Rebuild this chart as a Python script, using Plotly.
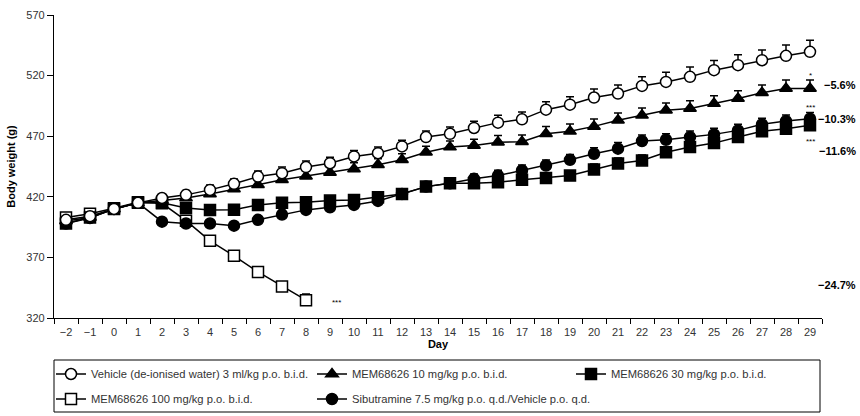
import plotly.graph_objects as go

days = list(range(-2, 30))

vehicle = [401, 404, 410, 415, 419, 421.6, 425.7, 430.7, 436.7, 439.5, 444.5, 447.7, 453.3, 456,
           461.6, 469.3, 472, 476.8, 481.2, 483.9, 491.9, 496, 501.9, 505.2, 511.5, 514.8, 519,
           524.5, 528.6, 532.7, 536.3, 539.6]
vehicle_err = [2, 2, 2, 2, 3, 3.5, 4, 4, 4.5, 5, 5, 5, 5, 5, 5, 5, 5.5, 5.5, 6, 6, 6.5, 6.5, 7, 7,
               7.5, 8, 8, 8, 8.5, 8.5, 9, 9.5]

mem10 = [400, 403, 410, 415, 417, 419, 422.4, 426.5, 430, 434, 437, 440, 443, 446.4, 450.5, 456.8,
         461, 462.4, 465.1, 465.5, 472, 474, 478.1, 483.1, 487.2, 491.4, 492.8, 496.9, 501.1, 505.8,
         509.4, 509.4]
mem10_err = [2, 2, 2, 2, 3, 3, 3.5, 4, 4, 4.5, 4.5, 5, 5, 5, 5, 5, 5, 5, 5.5, 5.5, 6, 6, 6, 6, 6, 6,
             6.5, 6.5, 6.5, 6.5, 7, 7]

mem30 = [398, 403, 410, 415, 415, 410.8, 409.2, 409.4, 413.3, 415, 415.5, 416.9, 417.4, 419.6, 422.4,
         428.4, 431.2, 431.2, 432, 434, 435.6, 437.5, 442.5, 447.5, 450, 456.8, 461, 464.3, 469.3,
         474, 476.2, 479]
mem30_err = [2, 2, 2, 2, 3, 3, 3, 3, 3.5, 3.5, 3.5, 3.5, 4, 4, 4, 4, 4, 4, 4, 4, 4, 4, 4.5, 4.5, 4.5,
             4.5, 4.5, 4.5, 5, 5, 5, 5]

mem100_days = list(range(-2, 9))
mem100 = [403, 406, 410.5, 415.5, 414.6, 400.3, 383.7, 371.3, 358, 346, 334.7]
mem100_err = [2, 2, 2, 2, 2, 3, 3, 3.5, 3.5, 4, 5]

sib = [398, 402.5, 410, 415, 399.5, 398, 398, 396.2, 401, 405.3, 409.2, 411.3, 413.3, 416.6, 422.4,
       428.4, 431.2, 434.8, 437.5, 441.7, 445.8, 450.5, 455.5, 459.7, 466, 467.1, 469.3, 471.5,
       474.8, 479.8, 482.5, 484.5]
sib_err = [2, 2, 2, 2, 3, 3, 3, 3, 3, 3.5, 3.5, 3.5, 4, 4, 4, 4, 4, 4, 4.5, 4.5, 4.5, 4.5, 5, 5, 5, 5,
           5, 5, 5, 5, 5, 5]

names = [
    "Vehicle (de-ionised water) 3 ml/kg p.o. b.i.d.",
    "MEM68626 10 mg/kg p.o. b.i.d.",
    "MEM68626 30 mg/kg p.o. b.i.d.",
    "MEM68626 100 mg/kg p.o. b.i.d.",
    "Sibutramine 7.5 mg/kg p.o. q.d./Vehicle p.o. q.d.",
]

pct_labels = ["\u22125.6%", "\u221210.3%", "\u221211.6%", "\u221224.7%"]
pct_y = [512, 484, 457.5, 347.3]

FONT = "Liberation Sans, Arial, sans-serif"
TXT = "#333333"

fig = go.Figure()

def add(x, y, err, name, symbol, fill, legend):
    fig.add_trace(go.Scatter(
        x=x, y=y, name=name, mode="lines+markers", legend=legend,
        line=dict(color="black", width=1.5),
        marker=dict(symbol=symbol, size=11, color=fill, line=dict(color="black", width=1.5)),
        error_y=dict(type="data", symmetric=False, array=err, arrayminus=[0] * len(err),
                     color="black", thickness=1.5, width=4),
        cliponaxis=False,
    ))

add(mem100_days, mem100, mem100_err, names[3], "square", "white", "legend4")
add(days, sib, sib_err, names[4], "circle", "black", "legend5")
add(days, mem30, mem30_err, names[2], "square", "black", "legend3")
add(days, mem10, mem10_err, names[1], "triangle-up", "black", "legend2")
add(days, vehicle, vehicle_err, names[0], "circle", "white", "legend")

annotations = []
for t, yv in zip(pct_labels, pct_y):
    annotations.append(dict(x=1.047, xref="paper", y=yv, yref="y", text="<b>%s</b>" % t,
                            showarrow=False, xanchor="right", yanchor="middle",
                            font=dict(family=FONT, size=11, color="black")))
stars = [("*", 29, 520.3), ("***", 29, 493.8), ("***", 29, 465.7), ("***", 9.25, 332.4)]
for t, xv, yv in stars:
    annotations.append(dict(x=xv, y=yv, xref="x", yref="y", text=t, showarrow=False,
                            xanchor="center", yanchor="middle",
                            font=dict(family=FONT, size=8, color="black")))

def leg(xpx, ypx):
    return dict(orientation="h", x=(xpx - 54) / 768, xanchor="left",
                y=(318 - ypx) / 303, yanchor="middle",
                bgcolor="rgba(0,0,0,0)", borderwidth=0,
                font=dict(family=FONT, size=11.2, color=TXT))

fig.update_layout(
    width=860, height=416,
    margin=dict(l=54, r=38, t=15, b=98, autoexpand=False),
    paper_bgcolor="white", plot_bgcolor="white",
    font=dict(family=FONT, size=11, color=TXT),
    showlegend=True,
    legend=leg(51, 374),
    legend2=leg(312, 374),
    legend3=leg(571, 374),
    legend4=leg(51, 399),
    legend5=leg(312, 399),
    xaxis=dict(range=[-2.5, 29.5], tickmode="array", tickvals=days,
               ticktext=[str(d).replace("-", "\u2212") for d in days],
               ticks="outside", ticklen=4, tickcolor="rgba(0,0,0,0)",
               minor=dict(tick0=-2.5, dtick=1, ticks="outside", ticklen=5, tickcolor="black",
                          tickwidth=1),
               showline=True, linecolor="black", linewidth=1.2, showgrid=False, zeroline=False,
               automargin=False,
               tickfont=dict(family=FONT, size=11, color=TXT),
               title=dict(text="<b>Day</b>", standoff=0, font=dict(family=FONT, size=11, color="black"))),
    yaxis=dict(range=[320, 570], tickmode="array", tickvals=[320, 370, 420, 470, 520, 570],
               ticks="outside", ticklen=6, tickcolor="black", tickwidth=1,
               showline=True, linecolor="black", linewidth=1.2, showgrid=False, zeroline=False,
               automargin=False,
               tickfont=dict(family=FONT, size=11, color=TXT),
               title=dict(text="<b>Body weight (g)</b>", standoff=8,
                          font=dict(family=FONT, size=11, color="black"))),
    annotations=annotations,
    shapes=[dict(type="rect", xref="paper", yref="paper", x0=0, x1=(820 - 54) / 768,
                 y0=(318 - 412) / 303, y1=(318 - 360) / 303,
                 line=dict(color="black", width=1), fillcolor="rgba(0,0,0,0)")],
)

fig.write_html("out.html")
